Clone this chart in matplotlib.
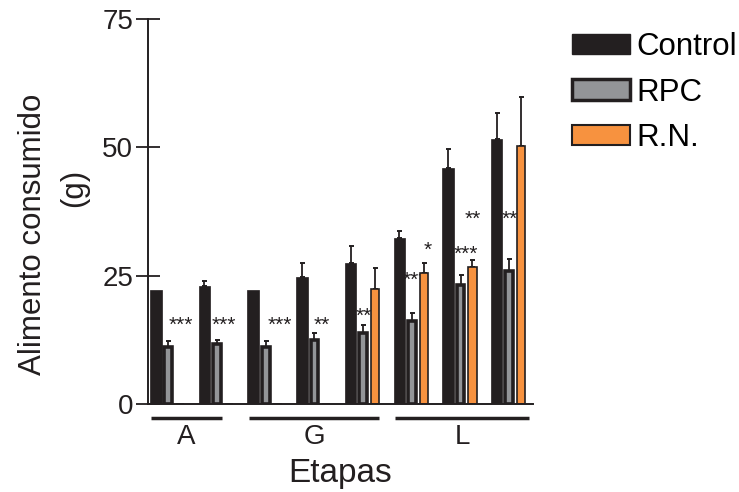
import matplotlib
matplotlib.use("Agg")
import matplotlib.pyplot as plt
from matplotlib.patches import Patch
import numpy as np

plt.rcParams['font.family'] = ['Liberation Sans', 'DejaVu Sans']

# values (g)
control = [22.2, 22.9, 22.3, 24.8, 27.4, 32.3, 45.9, 51.6]
control_err = [0.0, 1.0, 0.0, 2.7, 3.3, 1.4, 3.7, 5.0]
rpc = [11.2, 11.6, 11.2, 12.5, 13.9, 16.2, 23.1, 26.0]
rpc_err = [1.0, 0.9, 1.0, 1.4, 1.5, 1.6, 2.1, 2.3]
rn = [0.0, 0.0, 0.0, 0.0, 22.5, 25.5, 26.7, 50.3]
rn_err = [0.0, 0.0, 0.0, 0.0, 3.9, 1.9, 1.4, 9.5]

# significance marks: (x position in group units, y value, text)
mark_x = [0.52, 1.40, 2.55, 3.41, 4.26, 5.32, 5.58, 6.37, 6.51, 7.27]
mark_y = [16.6, 16.6, 16.6, 16.6, 18.4, 25.3, 31.3, 30.5, 37.3, 37.3]
mark_txt = ['***', '***', '***', '**', '**', '***', '*', '***', '**', '**']

stages = ['A', 'G', 'L']
stage_spans = [(-0.105, 1.353), (1.92, 4.59), (4.91, 7.67)]
legend_labels = ['Control', 'RPC', 'R.N.']

c_ctrl = '#231f20'
c_rpc = '#939598'
c_rn = '#f7923f'

fig = plt.figure(figsize=(7.39, 4.92), dpi=100)
ax = fig.add_axes([147.7 / 739, 88 / 492, 385.3 / 739, 385 / 492])

x = np.arange(len(control))
off_rpc, off_rn = 0.257, 0.50

ax.bar(x, control, width=0.236, color=c_ctrl, edgecolor=c_ctrl, linewidth=0.5, zorder=2)
ax.bar(x + off_rpc, rpc, width=0.16, color=c_rpc, edgecolor=c_ctrl, linewidth=2.6, zorder=2)
ax.bar(x + off_rn, rn, width=0.17, color=c_rn, edgecolor=c_ctrl, linewidth=1.2, zorder=2)

for xs, vals, errs in [(x, control, control_err), (x + off_rpc, rpc, rpc_err),
                       (x + off_rn, rn, rn_err)]:
    vals = np.array(vals)
    errs = np.array(errs)
    keep = errs > 0
    ax.errorbar(xs[keep], vals[keep], yerr=[np.zeros(keep.sum()), errs[keep]],
                fmt='none', ecolor=c_ctrl, elinewidth=1.3, capsize=1.8,
                capthick=1.4, zorder=1.5)

star_fs = 15
for xm, ym, txt in zip(mark_x, mark_y, mark_txt):
    # asterisks sit high in the line box, so anchor on the baseline
    ax.annotate(txt, (xm, ym), xytext=(0, -0.58 * star_fs), textcoords='offset points',
                ha='center', va='baseline', fontsize=star_fs, color=c_ctrl, zorder=1)

ax.set_xlim(-0.166, 7.745)
ax.set_ylim(0, 75)
ax.set_yticks([0, 25, 50, 75])
ax.set_xticks([])
ax.tick_params(axis='y', direction='inout', length=17, width=1.3,
               labelsize=20, pad=2, colors=c_ctrl)
for side in ['top', 'right']:
    ax.spines[side].set_visible(False)
for side in ['left', 'bottom']:
    ax.spines[side].set_linewidth(1.4)
    ax.spines[side].set_color(c_ctrl)

# stage brackets below the axis
tr = ax.get_xaxis_transform()
for name, (x0, x1) in zip(stages, stage_spans):
    ax.plot([x0, x1], [-0.037, -0.037], color=c_ctrl, lw=2.5,
            transform=tr, clip_on=False, solid_capstyle='butt')
    ax.text((x0 + x1) / 2, -0.052, name, transform=tr, ha='center', va='top',
            fontsize=20, color=c_ctrl)

ax.set_xlabel('Etapas', fontsize=24, labelpad=39, color=c_ctrl)

fig.text(33 / 739, 1 - 234 / 492, 'Alimento consumido', rotation=90,
         ha='center', va='center', fontsize=22.5, color=c_ctrl)
fig.text(74 / 739, 1 - 188 / 492, '(g)', rotation=90,
         ha='center', va='center', fontsize=22.5, color=c_ctrl)

handles = [Patch(facecolor=c_ctrl, edgecolor=c_ctrl),
           Patch(facecolor=c_rpc, edgecolor=c_ctrl, linewidth=2.5),
           Patch(facecolor=c_rn, edgecolor=c_ctrl, linewidth=1.5)]
fig.legend(handles, legend_labels, loc='upper left',
           bbox_to_anchor=(572 / 739, 1 - 32 / 492), frameon=False,
           fontsize=22.5, handlelength=1.85, handleheight=0.63,
           handletextpad=0.2, labelspacing=0.5, borderpad=0,
           borderaxespad=0)

fig.savefig('out.png', dpi=100)
